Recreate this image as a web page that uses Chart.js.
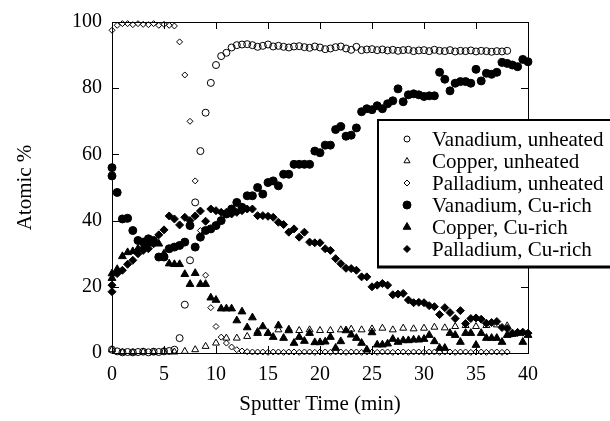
<!DOCTYPE html>
<html>
<head>
<meta charset="utf-8">
<script src="https://cdn.jsdelivr.net/npm/chart.js@4"></script>
<style>
  body { margin: 0; background: #fff; }
  canvas { display: block; }
</style>
</head>
<body>
<canvas id="grafico" width="610" height="421"></canvas>
<script>
// tempos (min)
var tempoNaoAquecido = [0, 0.5, 1, 1.5, 2, 2.5, 3, 3.5, 4, 4.5, 5, 5.5, 6, 6.5, 7, 7.5, 8, 8.5, 9, 9.5,
    10, 10.5, 11, 11.5, 12, 12.5, 13, 13.5, 14, 14.5, 15, 15.5, 16, 16.5, 17, 17.5, 18, 18.5, 19, 19.5,
    20, 20.5, 21, 21.5, 22, 22.5, 23, 23.5, 24, 24.5, 25, 25.5, 26, 26.5, 27, 27.5, 28, 28.5, 29, 29.5,
    30, 30.5, 31, 31.5, 32, 32.5, 33, 33.5, 34, 34.5, 35, 35.5, 36, 36.5, 37, 37.5, 38];
var tempoCobreNaoAquecido = [0, 1, 2, 3, 4, 5, 6, 7, 8, 9, 10, 11, 12, 13, 14, 15, 16, 17, 18, 19,
    20, 21, 22, 23, 24, 25, 26, 27, 28, 29, 30, 31, 32, 33, 34, 35, 36, 37, 38];
var tempoRicoCu = [0, 0, 0.5, 1, 1.5, 2, 2.5, 3, 3.5, 4, 4.5, 5, 5.5, 6, 6.5, 7, 7.5, 8, 8.5, 9, 9.5,
    10, 10.5, 11, 11.5, 12, 12.5, 13, 13.5, 14, 14.5, 15, 15.5, 16, 16.5, 17, 17.5, 18, 18.5, 19, 19.5,
    20, 20.5, 21, 21.5, 22, 22.5, 23, 23.5, 24, 24.5, 25, 25.5, 26, 26.5, 27, 27.5, 28, 28.5, 29, 29.5,
    30, 30.5, 31, 31.5, 32, 32.5, 33, 33.5, 34, 34.5, 35, 35.5, 36, 36.5, 37, 37.5, 38, 38.5, 39, 39.5, 40];

// porcentagem atomica
var vanadioNaoAquecido = [1, 0.5, 0.2, 0.3, 0.2, 0.3, 0.4, 0.2, 0.4, 0.3,
    0.5, 0.6, 1, 4.5, 14.6, 28, 45.5, 61, 72.6, 81.6,
    87, 89.7, 90.7, 92.3, 93, 93.2, 93.3, 93, 92.5, 92.8,
    93.2, 92.6, 92.8, 92.5, 92.3, 92.6, 92.7, 92.4, 92.2, 92.6,
    92.3, 91.8, 92, 92.4, 92.6, 92, 91.6, 92.5, 91.5, 91.7,
    91.8, 91.5, 91.7, 91.4, 91.6, 91.3, 91.5, 91.6, 91.2, 91.4,
    91.5, 91.2, 91.6, 91.3, 91.2, 91.5, 91.1, 91.3, 91.2, 91.4,
    91.1, 91.3, 91.2, 91, 91.2, 91.1, 91.3];
var cobreNaoAquecido = [1, 0.2, 0.1, 0.3, 0.2, 0.4, 0.3, 0.5, 1, 2,
    3, 4.5, 4.5, 5, 6.5, 6, 7, 7.2, 6.8, 7,
    6.8, 6.8, 7, 7.2, 7, 7.3, 7.5, 7, 7.5, 7.3,
    7.5, 7.8, 7.6, 8, 8.3, 8, 8.3, 8.5, 8.2];
var paladioNaoAquecido = [97.5, 99, 99.5, 99.5, 99.2, 99.5, 99.3, 99.2, 99.5, 99,
    99.3, 99, 98.8, 94, 84, 70, 52, 37, 23.5, 13.7,
    8, 4.8, 3, 1.8, 1, 0.6, 0.4, 0.3, 0.3, 0.3,
    0.2, 0.3, 0.3, 0.2, 0.3, 0.3, 0.2, 0.3, 0.3, 0.2,
    0.3, 0.3, 0.2, 0.3, 0.3, 0.2, 0.3, 0.3, 0.2, 0.3,
    0.3, 0.2, 0.3, 0.3, 0.2, 0.3, 0.3, 0.2, 0.3, 0.3,
    0.2, 0.3, 0.3, 0.2, 0.3, 0.3, 0.2, 0.3, 0.3, 0.2,
    0.3, 0.3, 0.2, 0.3, 0.3, 0.2, 0.3];
var vanadioRicoCu = [56, 53.5,
    48.5, 40.5, 40.7, 37, 34, 33.5, 34.5, 34, 29, 29,
    31.5, 32, 32.5, 33.5, 38.5, 32, 35, 37, 37.5, 38.5,
    40, 42, 43.5, 45.5, 44, 47.5, 47.5, 50, 48, 51.5,
    52, 50.5, 54, 54, 57, 57, 57, 57, 61, 60.5,
    62.8, 62.8, 67.5, 68.4, 65.5, 65.8, 68, 72.9, 73.8, 73.5,
    74.7, 73.8, 75.3, 76.2, 79.8, 75.9, 78, 78.3, 78, 77.5,
    77.7, 77.7, 84.8, 82.7, 79.2, 81.5, 82, 82, 81.5, 85.7,
    82.2, 84.5, 84.2, 84.8, 87.8, 87.5, 87, 86.5, 88.7, 88];
var cobreRicoCu = [22.6, 24,
    25.3, 29.2, 30.4, 30.7, 31.5, 32, 33, 33.5, 33, 30,
    27, 26.8, 26.8, 23.8, 20.8, 24.1, 20.8, 20.8, 16.7, 16,
    13.4, 13.4, 13.4, 9.8, 12.5, 7.7, 10.7, 6, 8, 6,
    4.8, 8.3, 4.5, 6.8, 3, 4.8, 3.6, 6, 3.2, 3.2,
    3.4, 4.8, 1.5, 3.5, 6.8, 5.5, 4.5, 3, 1, 6.2,
    2.5, 2.5, 2.8, 4.2, 3.3, 3.8, 3.8, 4, 4, 4.2,
    5.4, 3.5, 1.5, 1.5, 6, 5.4, 3.3, 6, 6, 2.4,
    6, 4.5, 4.5, 4.5, 3.3, 5.4, 5.7, 6, 3.3, 5.4];
var paladioRicoCu = [20.5, 18.5,
    24, 25, 26.8, 28, 30, 31, 31.5, 33, 35.7, 37.2,
    41.4, 40.5, 38.7, 41, 40, 41.4, 42.9, 39.8, 43.5, 43,
    42.5, 42.5, 42, 42.5, 43, 43.5, 43.5, 41.5, 41.5, 41.3,
    41, 39.5, 38.8, 36.5, 37.5, 35, 36.5, 33.5, 33.3, 33.3,
    31.5, 31, 28.5, 27, 25.6, 25.5, 25, 23, 23, 20,
    20.5, 21, 20.5, 17.6, 17.8, 18, 16, 15.2, 15.3, 15.2,
    14.3, 14, 11.6, 13.7, 12.2, 10.4, 12.8, 8.9, 10.4, 10.6,
    10.2, 9, 9.2, 9.5, 7.7, 7.4, 6, 6.2, 6.3, 6];

var ticksX = [0, 5, 10, 15, 20, 25, 30, 35, 40];
var ticksY = [0, 20, 40, 60, 80, 100];

var fonte = "'Liberation Serif', 'Times New Roman', serif";

function juntar(tempos, valores) {
    var pontos = [];
    for (var i = 0; i < tempos.length; i++) {
        pontos.push({ x: tempos[i], y: valores[i] });
    }
    return pontos;
}

function serie(nome, tempos, valores, estilo, raio, cheio) {
    return {
        label: nome,
        data: juntar(tempos, valores),
        pointStyle: estilo,
        pointRadius: raio,
        pointHoverRadius: raio,
        pointBorderWidth: 1,
        borderColor: '#000',
        backgroundColor: cheio ? '#000' : 'rgba(255,255,255,0)',
        showLine: false,
        clip: false
    };
}

var series = [
    serie('Vanadium, unheated', tempoNaoAquecido, vanadioNaoAquecido, 'circle', 3.5, false),
    serie('Copper, unheated', tempoCobreNaoAquecido, cobreNaoAquecido, 'triangle', 4, false),
    serie('Palladium, unheated', tempoNaoAquecido, paladioNaoAquecido, 'rectRot', 3, false),
    serie('Vanadium, Cu-rich', tempoRicoCu, vanadioRicoCu, 'circle', 4, true),
    serie('Copper, Cu-rich', tempoRicoCu, cobreRicoCu, 'triangle', 4.5, true),
    serie('Palladium, Cu-rich', tempoRicoCu, paladioRicoCu, 'rectRot', 4, true)
];

// moldura com marcas para dentro
var moldura = {
    id: 'moldura',
    beforeDatasetsDraw: function(chart) {
        var ctx = chart.ctx;
        var a = chart.chartArea;
        var sx = chart.scales.x;
        var sy = chart.scales.y;
        var tam = 7;
        ctx.save();
        ctx.strokeStyle = '#000';
        ctx.lineWidth = 1;
        ctx.strokeRect(a.left + 0.5, a.top + 0.5, a.right - a.left, a.bottom - a.top);
        ctx.beginPath();
        for (var i = 0; i < ticksX.length; i++) {
            var px = Math.round(sx.getPixelForValue(ticksX[i])) + 0.5;
            ctx.moveTo(px, a.bottom);
            ctx.lineTo(px, a.bottom - tam);
            ctx.moveTo(px, a.top);
            ctx.lineTo(px, a.top + tam);
        }
        for (var j = 0; j < ticksY.length; j++) {
            var py = Math.round(sy.getPixelForValue(ticksY[j])) + 0.5;
            ctx.moveTo(a.left, py);
            ctx.lineTo(a.left + tam, py);
            ctx.moveTo(a.right, py);
            ctx.lineTo(a.right - tam, py);
        }
        ctx.stroke();
        ctx.restore();
    }
};

// legenda em caixa sobre o grafico
var legenda = {
    id: 'legenda',
    afterDraw: function(chart) {
        var ctx = chart.ctx;
        var x0 = 378, y0 = 120, x1 = 612, y1 = 267;
        var raios = [3, 3.5, 3, 4, 4.5, 3.5];
        ctx.save();
        ctx.fillStyle = '#fff';
        ctx.fillRect(x0, y0, x1 - x0, y1 - y0);
        ctx.strokeStyle = '#000';
        ctx.lineWidth = 2;
        ctx.beginPath();
        ctx.moveTo(x1, y0);
        ctx.lineTo(x0, y0);
        ctx.lineTo(x0, y1);
        ctx.stroke();
        ctx.lineWidth = 3;
        ctx.beginPath();
        ctx.moveTo(x0 - 1, y1);
        ctx.lineTo(x1, y1);
        ctx.stroke();

        ctx.font = "21px " + fonte;
        ctx.textBaseline = 'middle';
        ctx.textAlign = 'left';
        for (var i = 0; i < series.length; i++) {
            var ds = series[i];
            var y = 139 + i * 22;
            ctx.lineWidth = 1;
            ctx.strokeStyle = '#000';
            ctx.fillStyle = ds.backgroundColor;
            Chart.helpers.drawPoint(ctx, {
                pointStyle: ds.pointStyle,
                radius: raios[i],
                rotation: 0,
                borderWidth: 1
            }, 407, y);
            ctx.fillStyle = '#000';
            ctx.fillText(ds.label, 432, y + 1);
        }
        ctx.restore();
    }
};

var ctx = document.getElementById('grafico').getContext('2d');

new Chart(ctx, {
    type: 'scatter',
    data: { datasets: series },
    options: {
        responsive: false,
        animation: false,
        devicePixelRatio: 1,
        layout: { padding: { left: 0, right: 82, top: 17, bottom: 0 } },
        plugins: {
            legend: { display: false },
            tooltip: { enabled: false }
        },
        scales: {
            x: {
                type: 'linear',
                min: 0,
                max: 40,
                afterFit: function(escala) { escala.height = 68; },
                afterBuildTicks: function(escala) {
                    escala.ticks = ticksX.map(function(v) { return { value: v }; });
                },
                grid: { display: false, drawTicks: false },
                border: { display: false },
                ticks: { padding: 10, color: '#000', font: { family: fonte, size: 20 } },
                title: {
                    display: true,
                    text: 'Sputter Time (min)',
                    color: '#000',
                    font: { family: fonte, size: 21 },
                    padding: { top: 0, bottom: 4 }
                }
            },
            y: {
                min: 0,
                max: 100,
                afterFit: function(escala) { escala.width = 112; },
                afterBuildTicks: function(escala) {
                    escala.ticks = ticksY.map(function(v) { return { value: v }; });
                },
                grid: { display: false, drawTicks: false },
                border: { display: false },
                ticks: { padding: 10, color: '#000', font: { family: fonte, size: 20 } },
                title: {
                    display: true,
                    text: 'Atomic %',
                    color: '#000',
                    font: { family: fonte, size: 21 },
                    padding: { top: 13, bottom: 0 }
                }
            }
        }
    },
    plugins: [moldura, legenda]
});
</script>
</body>
</html>
